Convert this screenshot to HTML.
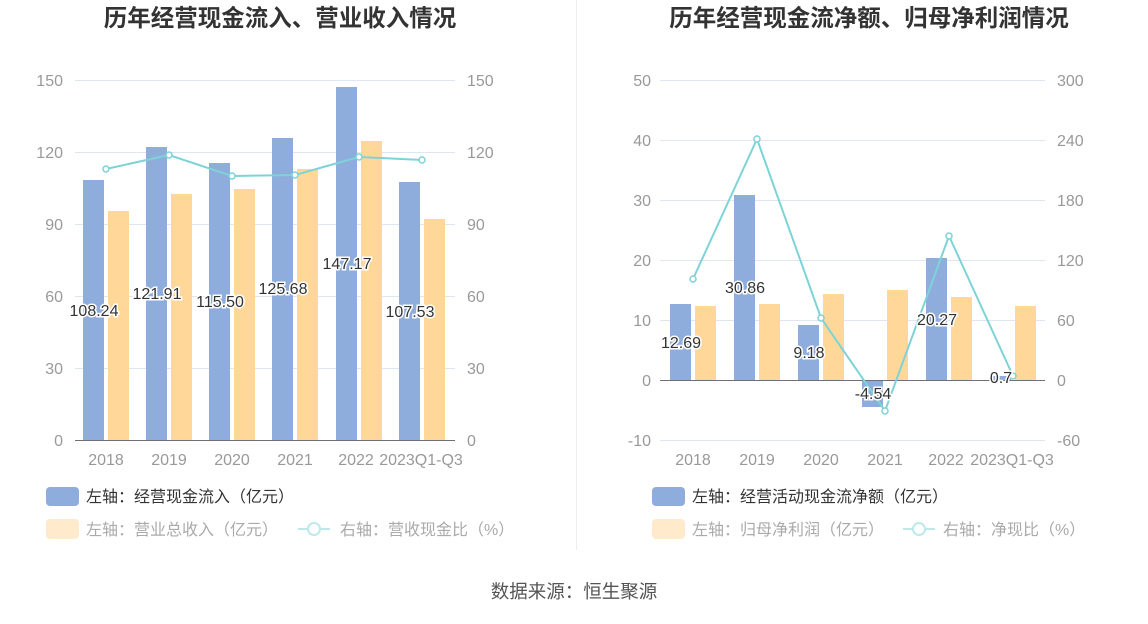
<!DOCTYPE html>
<html><head><meta charset="utf-8"><style>
body{margin:0;background:#fff;}
svg text{font-family:"Liberation Sans","Noto Sans CJK SC",sans-serif;}
</style></head><body>
<svg width="1148" height="619" xmlns="http://www.w3.org/2000/svg">
<rect width="1148" height="619" fill="#fff"/>
<line x1="576.5" y1="0" x2="576.5" y2="550" stroke="#eeeeee"/>
<text x="280" y="26" text-anchor="middle" font-size="23.5" font-weight="bold" fill="#333">历年经营现金流入、营业收入情况</text>
<text x="869" y="26" text-anchor="middle" font-size="23.5" font-weight="bold" fill="#333">历年经营现金流净额、归母净利润情况</text>
<g stroke="#e0e6f1">
<line x1="75" y1="80.5" x2="455" y2="80.5"/><line x1="75" y1="152.5" x2="455" y2="152.5"/><line x1="75" y1="224.5" x2="455" y2="224.5"/><line x1="75" y1="296.5" x2="455" y2="296.5"/><line x1="75" y1="368.5" x2="455" y2="368.5"/>
</g>
<line x1="75" y1="440.5" x2="455" y2="440.5" stroke="#6e7079"/>
<g font-size="16" fill="#999" text-anchor="end">
<text x="63" y="86">150</text><text x="63" y="158">120</text><text x="63" y="230">90</text><text x="63" y="302">60</text><text x="63" y="374">30</text><text x="63" y="446">0</text>
</g>
<g font-size="16" fill="#999" text-anchor="start">
<text x="467" y="86">150</text><text x="467" y="158">120</text><text x="467" y="230">90</text><text x="467" y="302">60</text><text x="467" y="374">30</text><text x="467" y="446">0</text>
</g>
<g font-size="16" fill="#999" text-anchor="middle">
<text x="106" y="465">2018</text><text x="169" y="465">2019</text><text x="232" y="465">2020</text><text x="295" y="465">2021</text><text x="356" y="465">2022</text><text x="421" y="465">2023Q1-Q3</text>
</g>
<g fill="#8eaddc">
<rect x="83" y="180" width="21" height="260"/><rect x="146" y="147" width="21" height="293"/><rect x="209" y="163" width="21" height="277"/><rect x="272" y="138" width="21" height="302"/><rect x="336" y="87" width="21" height="353"/><rect x="399" y="182" width="21" height="258"/>
</g>
<g fill="#ffd899">
<rect x="108" y="211" width="21" height="229"/><rect x="171" y="194" width="21" height="246"/><rect x="234" y="189" width="21" height="251"/><rect x="297" y="169" width="21" height="271"/><rect x="361" y="141" width="21" height="299"/><rect x="424" y="219" width="21" height="221"/>
</g>
<polyline points="106,169 169,155 232,176 295,175 359,157 422,160" fill="none" stroke="#7dd3d6" stroke-width="2"/>
<g fill="#fff" stroke="#7dd3d6" stroke-width="1.5">
<circle cx="106" cy="169" r="3"/><circle cx="169" cy="155" r="3"/><circle cx="232" cy="176" r="3"/><circle cx="295" cy="175" r="3"/><circle cx="359" cy="157" r="3"/><circle cx="422" cy="160" r="3"/>
</g>
<g font-size="16" fill="#333" text-anchor="middle" stroke="#fff" stroke-width="3" paint-order="stroke">
<text x="94" y="316">108.24</text><text x="157" y="299">121.91</text><text x="220" y="307">115.50</text><text x="283" y="294">125.68</text><text x="347" y="269">147.17</text><text x="410" y="317">107.53</text>
</g>
<g stroke="#e0e6f1">
<line x1="660" y1="80.5" x2="1045" y2="80.5"/><line x1="660" y1="140.5" x2="1045" y2="140.5"/><line x1="660" y1="200.5" x2="1045" y2="200.5"/><line x1="660" y1="260.5" x2="1045" y2="260.5"/><line x1="660" y1="320.5" x2="1045" y2="320.5"/><line x1="660" y1="440.5" x2="1045" y2="440.5"/>
</g>
<g font-size="16" fill="#999" text-anchor="end">
<text x="651" y="86">50</text><text x="651" y="146">40</text><text x="651" y="206">30</text><text x="651" y="266">20</text><text x="651" y="326">10</text><text x="651" y="386">0</text><text x="651" y="446">-10</text>
</g>
<g font-size="16" fill="#999" text-anchor="start">
<text x="1057" y="86">300</text><text x="1057" y="146">240</text><text x="1057" y="206">180</text><text x="1057" y="266">120</text><text x="1057" y="326">60</text><text x="1057" y="386">0</text><text x="1057" y="446">-60</text>
</g>
<g font-size="16" fill="#999" text-anchor="middle">
<text x="693" y="465">2018</text><text x="757" y="465">2019</text><text x="821" y="465">2020</text><text x="885" y="465">2021</text><text x="946" y="465">2022</text><text x="1012" y="465">2023Q1-Q3</text>
</g>
<g fill="#8eaddc">
<rect x="670" y="304" width="21" height="76"/><rect x="734" y="195" width="21" height="185"/><rect x="798" y="325" width="21" height="55"/><rect x="862" y="380" width="21" height="27"/><rect x="926" y="258" width="21" height="122"/><rect x="990" y="376" width="21" height="4"/>
</g>
<g fill="#ffd899">
<rect x="695" y="306" width="21" height="74"/><rect x="759" y="304" width="21" height="76"/><rect x="823" y="294" width="21" height="86"/><rect x="887" y="290" width="21" height="90"/><rect x="951" y="297" width="21" height="83"/><rect x="1015" y="306" width="21" height="74"/>
</g>
<line x1="660" y1="380.5" x2="1045" y2="380.5" stroke="#6e7079"/>
<polyline points="693,279 757,139 821,318 885,411 949,236 1013,376" fill="none" stroke="#7dd3d6" stroke-width="2"/>
<g fill="#fff" stroke="#7dd3d6" stroke-width="1.5">
<circle cx="693" cy="279" r="3"/><circle cx="757" cy="139" r="3"/><circle cx="821" cy="318" r="3"/><circle cx="885" cy="411" r="3"/><circle cx="949" cy="236" r="3"/><circle cx="1013" cy="376" r="3"/>
</g>
<g font-size="16" fill="#333" text-anchor="middle" stroke="#fff" stroke-width="3" paint-order="stroke">
<text x="681" y="348">12.69</text><text x="745" y="293">30.86</text><text x="809" y="358">9.18</text><text x="873" y="399">-4.54</text><text x="937" y="325">20.27</text><text x="1001" y="383">0.7</text>
</g>
<rect x="46" y="487" width="33" height="19" rx="4" fill="#8eaddc"/>
<text x="86" y="502" font-size="16" fill="#333">左轴：经营现金流入（亿元）</text>
<rect x="46" y="519" width="33" height="20" rx="4" fill="#ffebcc"/>
<text x="86" y="535" font-size="16" fill="#aaa">左轴：营业总收入（亿元）</text>
<line x1="298" y1="529" x2="330" y2="529" stroke="#bde9eb" stroke-width="2"/><circle cx="314" cy="529" r="6" fill="#fff" stroke="#bde9eb" stroke-width="2"/>
<text x="340" y="535" font-size="16" fill="#aaa">右轴：营收现金比（%）</text>
<rect x="652" y="487" width="33" height="19" rx="4" fill="#8eaddc"/>
<text x="692" y="502" font-size="16" fill="#333">左轴：经营活动现金流净额（亿元）</text>
<rect x="652" y="519" width="33" height="20" rx="4" fill="#ffebcc"/>
<text x="692" y="535" font-size="16" fill="#aaa">左轴：归母净利润（亿元）</text>
<line x1="903" y1="529" x2="935" y2="529" stroke="#bde9eb" stroke-width="2"/><circle cx="919" cy="529" r="6" fill="#fff" stroke="#bde9eb" stroke-width="2"/>
<text x="943" y="535" font-size="16" fill="#aaa">右轴：净现比（%）</text>
<text x="574" y="598" text-anchor="middle" font-size="18.5" fill="#555">数据来源：恒生聚源</text>
</svg>
</body></html>
